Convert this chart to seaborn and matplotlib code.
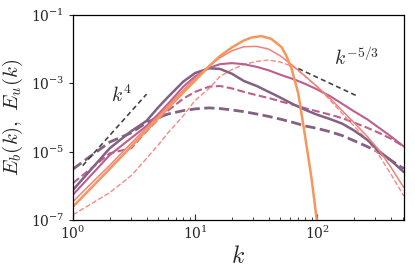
import numpy as np
import matplotlib
matplotlib.use("Agg")
import matplotlib.pyplot as plt
import seaborn as sns
from matplotlib.ticker import NullLocator, LogLocator

# spectra, stored as log10(E)
k = [1, 2, 3, 4, 5, 6, 8, 10, 13, 16, 20, 25, 32, 40, 50, 64, 80, 100,
     128, 160, 200, 256, 320, 400, 512]

purple_b = [-6.12, -4.9, -4.4, -4.1, -3.7, -3.4, -2.95, -2.7, -2.56, -2.58,
            -2.72, -2.93, -3.08, -3.25, -3.42, -3.62, -3.78, -3.92, -4.05,
            -4.18, -4.38, -4.65, -4.98, -5.25, -5.6]
purple_u = [-5.51, -4.72, -4.45, -4.15, -4.0, -3.9, -3.8, -3.75, -3.72, -3.74,
            -3.78, -3.83, -3.9, -3.97, -4.05, -4.15, -4.25, -4.32, -4.42,
            -4.53, -4.68, -4.85, -5.02, -5.25, -5.5]
pink_b = [-6.26, -5.1, -4.6, -4.25, -3.9, -3.6, -3.1, -2.8, -2.55, -2.44,
          -2.41, -2.44, -2.52, -2.62, -2.75, -2.88, -3.02, -3.18, -3.38,
          -3.6, -3.82, -4.05, -4.3, -4.55, -4.85]
pink_u = [-5.92, -5.05, -4.9, -4.4, -4.05, -3.8, -3.45, -3.25, -3.1, -3.08,
          -3.15, -3.25, -3.35, -3.43, -3.53, -3.63, -3.73, -3.82, -3.92,
          -4.02, -4.15, -4.3, -4.45, -4.62, -4.85]
salmon_b = [-6.46, -5.4, -4.75, -4.3, -3.95, -3.65, -3.2, -2.85, -2.5, -2.25,
            -2.05, -1.93, -1.92, -2.0, -2.2, -2.5, -2.8, -3.1, -3.45, -3.8,
            -4.15, -4.55, -4.95, -5.45, -6.05]
salmon_u = [-6.85, -6.2, -5.7, -5.2, -4.8, -4.45, -3.95, -3.5, -3.15, -2.8,
            -2.6, -2.45, -2.36, -2.32, -2.38, -2.52, -2.8, -3.1, -3.5, -3.88,
            -4.25, -4.65, -5.1, -5.65, -6.3]

k_orange = [1, 2, 3, 4, 5, 6, 8, 10, 13, 16, 20, 25, 29, 35, 42, 51, 56, 62,
            70, 80, 90, 100, 110]
orange_b = [-6.61, -5.5, -4.85, -4.38, -4.02, -3.73, -3.27, -2.92, -2.5, -2.2,
            -1.95, -1.75, -1.66, -1.62, -1.7, -1.94, -2.2, -2.6, -3.3, -4.6,
            -5.8, -7.1, -8.5]

sns.set_style("ticks")
plt.rcParams["font.family"] = ["DejaVu Serif"]
plt.rcParams["mathtext.fontset"] = "cm"

fig = plt.figure(figsize=(4.15, 2.77), dpi=100)
ax = fig.add_axes([0.176, 0.206, 0.797, 0.740])

k = np.array(k, dtype=float)
series = [
    (purple_u, "#826181", 2.0, (4, 2)),
    (pink_u, "#bd5f8c", 1.5, (4, 2)),
    (salmon_u, "#f48a84", 1.0, (3, 2)),
    (purple_b, "#826181", 1.8, None),
    (pink_b, "#bd5f8c", 1.5, None),
    (salmon_b, "#f3807a", 1.1, None),
]
for vals, col, lw, dash in series:
    y = 10.0 ** np.array(vals)
    if dash is None:
        sns.lineplot(x=k, y=y, ax=ax, color=col, lw=lw, sort=False)
    else:
        sns.lineplot(x=k, y=y, ax=ax, color=col, lw=lw, sort=False,
                     linestyle="--", dashes=dash)
sns.lineplot(x=np.array(k_orange, float), y=10.0 ** np.array(orange_b),
             ax=ax, color="#f7965c", lw=1.8, sort=False)

# reference slopes
k4 = np.array([1.2, 4.0])
ax.plot(k4, 4.8e-4 * (k4 / 4.0) ** 4, color="#444444", ls="--", lw=1.2,
        dashes=(3, 2))
k53 = np.array([70.0, 214.0])
ax.plot(k53, 2.7e-3 * (k53 / 70.0) ** (-5 / 3), color="#444444", ls="--",
        lw=1.2, dashes=(3, 2))
ax.text(2.5, 4.5e-4, r"$k^4$", fontsize=14, ha="center", va="center")
ax.text(212, 5.5e-3, r"$k^{-5/3}$", fontsize=14, ha="center", va="center")

ax.set_xscale("log")
ax.set_yscale("log")
ax.set_xlim(1, 512)
ax.set_ylim(1e-7, 1e-1)
ax.set_yticks([1e-7, 1e-5, 1e-3, 1e-1])
ax.yaxis.set_minor_locator(NullLocator())
ax.xaxis.set_minor_locator(LogLocator(subs=np.arange(2, 10)))
ax.tick_params(axis="x", which="both", direction="in", labelsize=10)
ax.tick_params(axis="x", which="major", length=4)
ax.tick_params(axis="x", which="minor", length=2.5)
ax.tick_params(axis="y", which="major", direction="out", length=3,
               labelsize=10)
for s in ax.spines.values():
    s.set_visible(True)
    s.set_color("black")
    s.set_linewidth(0.9)

ax.set_xlabel(r"$k$", fontsize=17, labelpad=2)
ax.set_ylabel(r"$E_b(k),\ E_u(k)$", fontsize=15)
ax.yaxis.set_label_coords(-0.145, 0.5)

fig.savefig("out.png", dpi=100)
